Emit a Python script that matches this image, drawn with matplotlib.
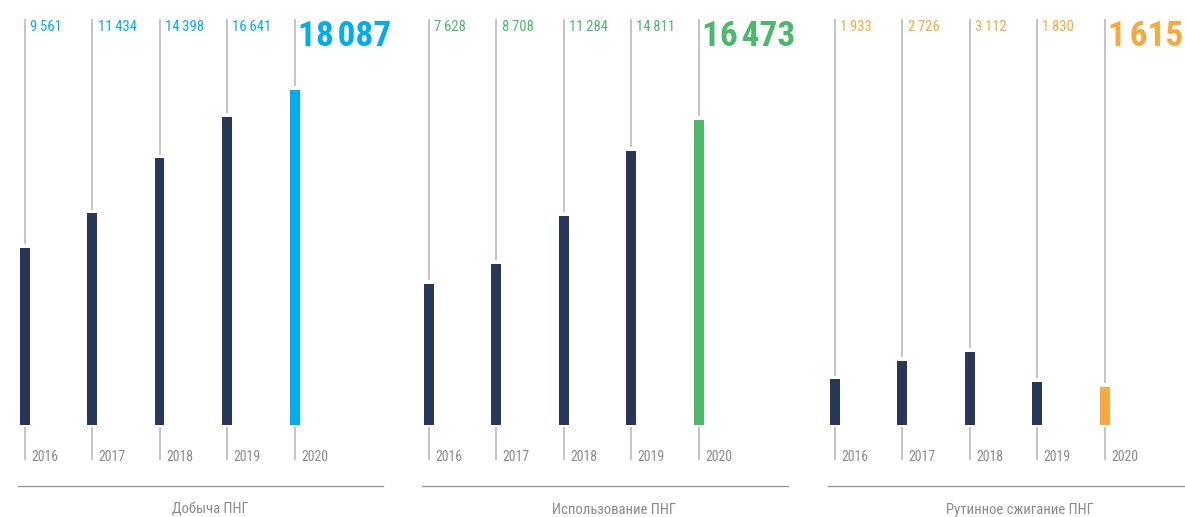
import matplotlib
matplotlib.use("Agg")
import matplotlib.pyplot as plt
from matplotlib.lines import Line2D
import matplotlib.transforms as mtransforms

# ---- data ----
years = ["2016", "2017", "2018", "2019", "2020"]
production = [9561, 11434, 14398, 16641, 18087]
utilization = [7628, 8708, 11284, 14811, 16473]
flaring = [1933, 2726, 3112, 1830, 1615]
titles = ["Добыча ПНГ", "Использование ПНГ", "Рутинное сжигание ПНГ"]
series = [production, utilization, flaring]
accent_colors = ["#00aeef", "#4cb96a", "#f9a83e"]

plt.rcParams['font.family'] = ['Roboto Condensed', 'Liberation Sans Narrow', 'Roboto', 'DejaVu Sans']

W, H = 1185, 517
fig = plt.figure(figsize=(W / 100, H / 100), dpi=100)

NAVY = "#27375a"
LINE = "#b4b4b4"
GREY_TXT = "#8a8a8a"

# panel layout in pixels
panels = [
    dict(c0=24.5, ax=(0, 400), k=0.01853, rule=(18, 383), title_x=210),
    dict(c0=428.5, ax=(400, 810), k=0.01853, rule=(422, 788), title_x=614),
    dict(c0=834.5, ax=(810, 1185), k=0.0236, rule=(828, 1185), title_x=1020),
]
step = 67.5
base_px = 425.0
bar_w_px = 10.0

def fy(py):
    return 1 - py / H

def fmt(v, sep="\u2009"):
    return f"{v:,}".replace(",", sep)

for p, vals, col, title in zip(panels, series, accent_colors, titles):
    x0, x1 = p["ax"]
    ax = fig.add_axes([x0 / W, 0, (x1 - x0) / W, 1])
    ax.set_axis_off()
    k = p["k"]
    ax.set_xlim((x0 - p["c0"]) / step, (x1 - p["c0"]) / step)
    ax.set_ylim(-(H - base_px) / k, base_px / k)
    bw = bar_w_px / step
    n = len(vals)
    trans = mtransforms.blended_transform_factory(ax.transData, ax.transAxes)
    for i, v in enumerate(vals):
        c = col if i == n - 1 else NAVY
        top_val = (base_px - 19) / k
        ax.plot([i, i], [v + 3.5 / k, top_val], color=LINE, lw=1.1, solid_capstyle='butt')
        ax.plot([i, i], [-2 / k, -(460 - base_px) / k], color=LINE, lw=1.1, solid_capstyle='butt')
        ax.bar(i, v, width=bw, color=c, zorder=3)
        if i == n - 1:
            ax.text(i, fy(36), fmt(v, "\u200a"),
                    transform=trans + mtransforms.ScaledTranslation(3.5 / 100, 0, fig.dpi_scale_trans),
                    ha='left', va='center', fontsize=25.5, fontweight='bold', color=col)
        else:
            ax.text(i, fy(27), fmt(v),
                    transform=trans + mtransforms.ScaledTranslation(5.5 / 100, 0, fig.dpi_scale_trans),
                    ha='left', va='center', fontsize=10.5, color=col)
        ax.text(i, fy(457), years[i],
                transform=trans + mtransforms.ScaledTranslation(6.5 / 100, 0, fig.dpi_scale_trans),
                ha='left', va='center', fontsize=10, color=GREY_TXT)
    r0, r1 = p["rule"]
    fig.add_artist(Line2D([r0 / W, r1 / W], [fy(486), fy(486)], color="#9a9a9a", lw=1.0))
    fig.text(p["title_x"] / W, fy(510), title, ha='center', va='center', fontsize=10.5, color=GREY_TXT)

fig.savefig("out.png", dpi=100)
